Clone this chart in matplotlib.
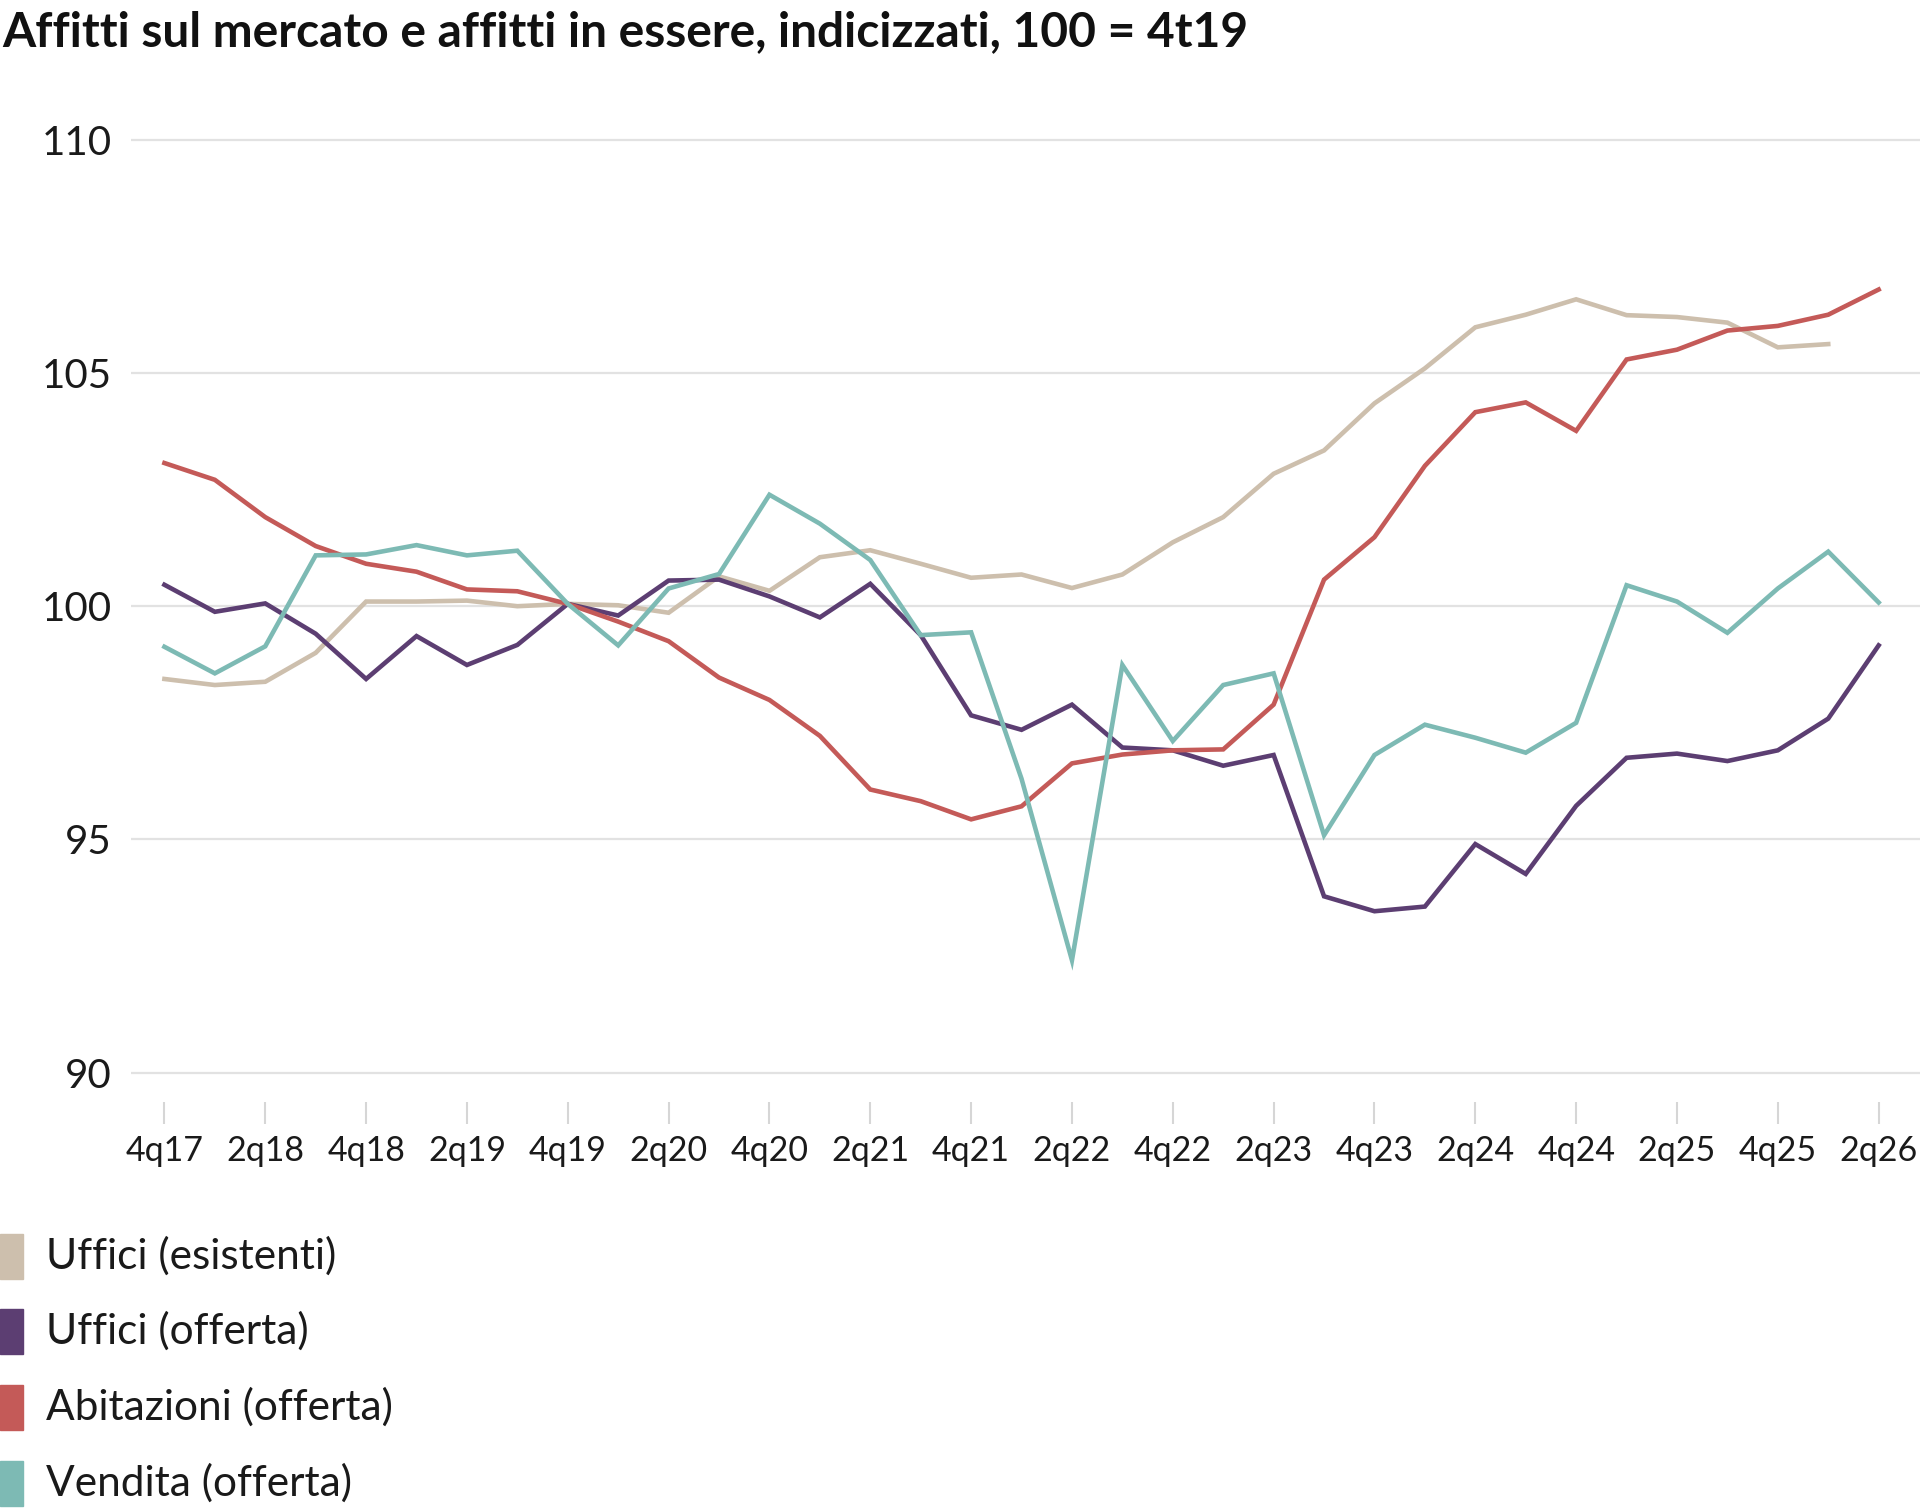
import matplotlib
matplotlib.use("Agg")
import matplotlib.pyplot as plt

# quarters 4q17 .. 2q26
quarters = ["4q17", "1q18", "2q18", "3q18", "4q18", "1q19", "2q19", "3q19", "4q19",
            "1q20", "2q20", "3q20", "4q20", "1q21", "2q21", "3q21", "4q21",
            "1q22", "2q22", "3q22", "4q22", "1q23", "2q23", "3q23", "4q23",
            "1q24", "2q24", "3q24", "4q24", "1q25", "2q25", "3q25", "4q25",
            "1q26", "2q26"]

uffici_esistenti = [98.44, 98.31, 98.38, 99.0, 100.1, 100.1, 100.12, 100.0, 100.05,
                    100.02, 99.86, 100.64, 100.33, 101.05, 101.2, 100.91, 100.61,
                    100.68, 100.39, 100.68, 101.37, 101.91, 102.84, 103.34, 104.35,
                    105.1, 105.98, 106.25, 106.58, 106.24, 106.2, 106.08, 105.55,
                    105.62]
uffici_offerta = [100.46, 99.88, 100.06, 99.41, 98.44, 99.36, 98.74, 99.17, 100.05,
                  99.8, 100.55, 100.57, 100.21, 99.76, 100.48, 99.38, 97.66,
                  97.35, 97.89, 96.97, 96.91, 96.58, 96.81, 93.78, 93.46,
                  93.56, 94.9, 94.26, 95.72, 96.75, 96.84, 96.68, 96.91,
                  97.59, 99.16]
abitazioni_offerta = [103.07, 102.71, 101.91, 101.29, 100.91, 100.74, 100.36, 100.32, 100.05,
                      99.67, 99.25, 98.47, 97.99, 97.22, 96.07, 95.82, 95.43,
                      95.71, 96.63, 96.82, 96.91, 96.93, 97.89, 100.57, 101.48,
                      103.01, 104.16, 104.37, 103.76, 105.29, 105.5, 105.91, 106.01,
                      106.25, 106.79]
vendita_offerta = [99.13, 98.56, 99.14, 101.09, 101.11, 101.31, 101.09, 101.19, 100.05,
                   99.16, 100.38, 100.69, 102.39, 101.77, 100.99, 99.38, 99.44,
                   96.3, 92.41, 98.74, 97.11, 98.31, 98.56, 95.09, 96.81,
                   97.46, 97.18, 96.86, 97.5, 100.45, 100.1, 99.43, 100.38,
                   101.17, 100.08]

series_names = ["Uffici (esistenti)", "Uffici (offerta)", "Abitazioni (offerta)", "Vendita (offerta)"]
colors = ["#CDBFAD", "#5C3E72", "#C45A58", "#7DBAB4"]

plt.rcParams["font.family"] = ["Lato", "DejaVu Sans"]

fig = plt.figure(figsize=(19.2, 15.1), dpi=100)
ax = fig.add_axes([0.0682, 0.2702, 0.9318, 0.6437])

xs = list(range(len(quarters)))
all_series = [uffici_esistenti, uffici_offerta, abitazioni_offerta, vendita_offerta]
for vals, c in zip(all_series, colors):
    ax.plot(xs[:len(vals)], vals, color=c, lw=3.3, solid_joinstyle="miter", zorder=3)

ax.set_xlim(-0.664, 34.82)
ax.set_ylim(89.37, 110.21)
ax.set_yticks([90, 95, 100, 105, 110])
ax.yaxis.grid(True, color="#E2E2E2", lw=1.6)
ax.set_axisbelow(True)
for s in ax.spines.values():
    s.set_visible(False)

ax.set_xticks(xs[::2])
ax.set_xticklabels(quarters[::2])
ax.tick_params(axis="x", length=16, width=1.5, color="#D6D6D6", pad=8,
               labelsize=24.5, labelcolor="#1a1a1a")
ax.tick_params(axis="y", length=0, pad=14, labelsize=29, labelcolor="#1a1a1a")

fig.text(0.001, 1 - 32 / 1510, "Affitti sul mercato e affitti in essere, indicizzati, 100 = 4t19",
         fontsize=34.5, fontweight="bold", va="center", ha="left", color="#111111")

# legend
rows_y = [1256, 1331, 1407, 1483]
for name, c, yy in zip(series_names, colors, rows_y):
    fig.patches.append(plt.Rectangle((0, 1 - (yy + 23) / 1510), 23 / 1920, 45 / 1510,
                                     transform=fig.transFigure, color=c))
    fig.text(46 / 1920, 1 - yy / 1510, name, fontsize=30.5, va="center", ha="left",
             color="#1a1a1a")

fig.savefig("out.png", dpi=100)
